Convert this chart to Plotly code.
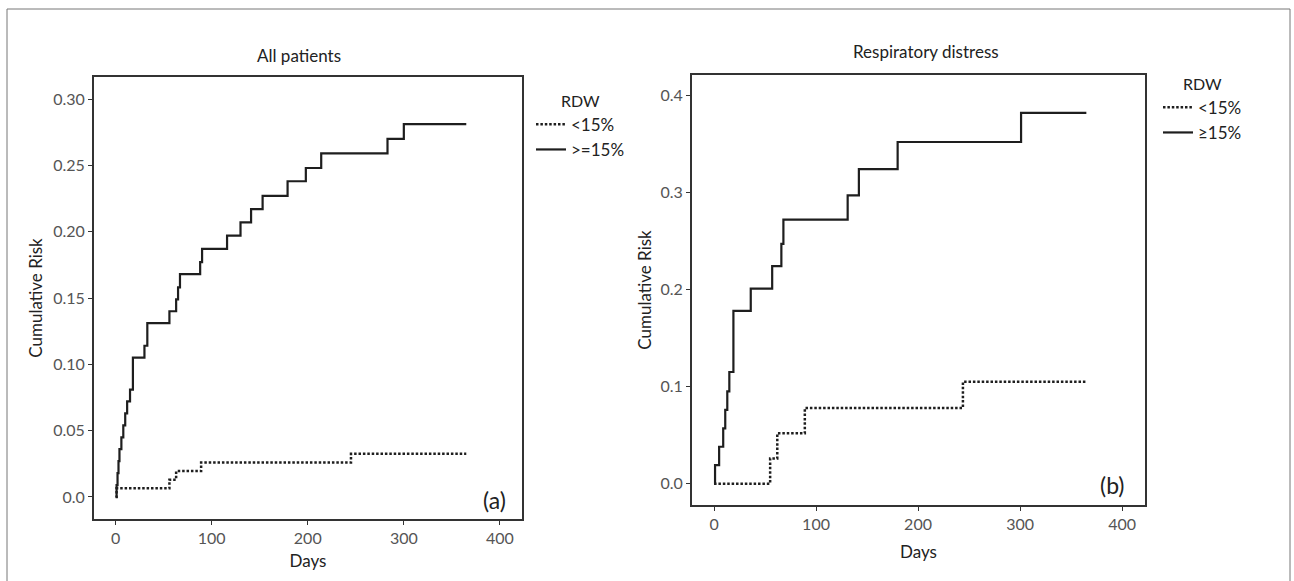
import plotly.graph_objects as go

W, H = 1294, 581

# ---- data ----
# Panel (a): All patients
days_a_low = [0, 1, 56, 63, 89, 245, 365]
risk_a_low = [0, 0.0065, 0.013, 0.0195, 0.026, 0.0325, 0.0325]

days_a_high = [0, 1, 2, 3, 4, 6, 8, 10, 12, 15, 18, 30, 33, 56, 63, 65, 67, 88, 90,
               116, 130, 141, 153, 179, 198, 214, 283, 300, 365]
risk_a_high = [0, 0.009, 0.018, 0.027, 0.036, 0.045, 0.054, 0.063, 0.072, 0.081, 0.105,
               0.114, 0.131, 0.140, 0.149, 0.158, 0.168, 0.177, 0.187, 0.197, 0.207,
               0.217, 0.227, 0.238, 0.248, 0.259, 0.270, 0.281, 0.281]

# Panel (b): Respiratory distress
days_b_low = [0, 55, 62, 89, 244, 365]
risk_b_low = [0, 0.026, 0.052, 0.078, 0.105, 0.105]

days_b_high = [0, 1, 5, 9, 11, 13, 15, 19, 36, 57, 66, 68, 131, 142, 180, 301, 365]
risk_b_high = [0, 0.019, 0.038, 0.057, 0.076, 0.095, 0.115, 0.178, 0.201, 0.224,
               0.247, 0.272, 0.297, 0.324, 0.352, 0.382, 0.382]

x_ticks = [0, 100, 200, 300, 400]
y_ticks_a = [0.0, 0.05, 0.10, 0.15, 0.20, 0.25, 0.30]
y_text_a = ["0.0", "0.05", "0.10", "0.15", "0.20", "0.25", "0.30"]
y_ticks_b = [0.0, 0.1, 0.2, 0.3, 0.4]
y_text_b = ["0.0", "0.1", "0.2", "0.3", "0.4"]

labels_a = ["<15%", ">=15%"]
labels_b = ["<15%", "\u226515%"]
titles = ["All patients", "Respiratory distress"]

# ---- helpers ----
def fx(x):
    return x / W

def fy(y):
    return 1 - y / H

FONT = "Lato, 'Open Sans', sans-serif"
LINE = "#1e1e1e"
DOT = "2.5px,1.9px"
TXT = "#222222"

fig = go.Figure()

fig.add_trace(go.Scatter(x=days_a_low, y=risk_a_low, mode="lines", name=labels_a[0],
                         line=dict(shape="hv", color=LINE, width=2.5, dash=DOT),
                         xaxis="x", yaxis="y", legend="legend"))
fig.add_trace(go.Scatter(x=days_a_high, y=risk_a_high, mode="lines", name=labels_a[1],
                         line=dict(shape="hv", color=LINE, width=2.2),
                         xaxis="x", yaxis="y", legend="legend"))
fig.add_trace(go.Scatter(x=days_b_low, y=risk_b_low, mode="lines", name=labels_b[0],
                         line=dict(shape="hv", color=LINE, width=2.5, dash=DOT),
                         xaxis="x2", yaxis="y2", legend="legend2"))
fig.add_trace(go.Scatter(x=days_b_high, y=risk_b_high, mode="lines", name=labels_b[1],
                         line=dict(shape="hv", color=LINE, width=2.2),
                         xaxis="x2", yaxis="y2", legend="legend2"))

axis_common = dict(showline=True, mirror=True, linecolor="#333333", linewidth=1.8,
                   ticks="outside", ticklen=4, tickwidth=1.2, tickcolor="#333333",
                   showgrid=False, zeroline=False,
                   tickfont=dict(family=FONT, size=16, color="#555555"))

title_font = dict(size=17, family=FONT, color=TXT)

fig.update_layout(
    width=W, height=H,
    margin=dict(l=0, r=0, t=0, b=0),
    paper_bgcolor="white", plot_bgcolor="white",
    font=dict(family=FONT, color=TXT),
    xaxis=dict(domain=[fx(94), fx(522)], range=[-22.5, 423], tickvals=x_ticks,
               title=dict(text="Days", font=title_font, standoff=9),
               anchor="y", **axis_common),
    yaxis=dict(domain=[fy(519), fy(77)], range=[-0.0166, 0.3166], tickvals=y_ticks_a,
               ticktext=y_text_a,
               title=dict(text="Cumulative Risk", font=title_font, standoff=6),
               anchor="x", **axis_common),
    xaxis2=dict(domain=[fx(692), fx(1145)], range=[-21.6, 422.5], tickvals=x_ticks,
                title=dict(text="Days", font=title_font, standoff=14),
                anchor="y2", **axis_common),
    yaxis2=dict(domain=[fy(505), fy(75)], range=[-0.022, 0.421], tickvals=y_ticks_b,
                ticktext=y_text_b,
                title=dict(text="Cumulative Risk", font=title_font, standoff=5),
                anchor="x2", **axis_common),
    legend=dict(x=fx(531), y=fy(86), xanchor="left", yanchor="top",
                title=dict(text="RDW", side="top center", font=dict(size=16, family=FONT, color=TXT)),
                font=dict(size=17, family=FONT, color=TXT), bgcolor="rgba(0,0,0,0)",
                tracegroupgap=0, itemwidth=30),
    legend2=dict(x=fx(1158), y=fy(69), xanchor="left", yanchor="top",
                 title=dict(text="RDW", side="top center", font=dict(size=16, family=FONT, color=TXT)),
                 font=dict(size=17, family=FONT, color=TXT), bgcolor="rgba(0,0,0,0)",
                 tracegroupgap=0, itemwidth=30),
    showlegend=True,
    annotations=[
        dict(text=titles[0], x=fx(299), y=fy(56), xref="paper", yref="paper",
             xanchor="center", yanchor="middle",
             showarrow=False, font=title_font),
        dict(text=titles[1], x=fx(926), y=fy(51), xref="paper", yref="paper",
             xanchor="center", yanchor="middle",
             showarrow=False, font=title_font),
        dict(text="(a)", x=fx(494), y=fy(500), xref="paper", yref="paper",
             xanchor="center", yanchor="middle",
             showarrow=False, font=dict(size=23, family=FONT, color=TXT)),
        dict(text="(b)", x=fx(1112), y=fy(485), xref="paper", yref="paper",
             xanchor="center", yanchor="middle",
             showarrow=False, font=dict(size=23, family=FONT, color=TXT)),
    ],
    shapes=[dict(type="rect", xref="paper", yref="paper",
                 x0=fx(7), x1=fx(1290), y0=fy(584), y1=fy(9),
                 line=dict(color="#777777", width=1))],
)

fig.write_html("out.html", config={"displayModeBar": False},
               post_script="document.body.style.margin='0';")
